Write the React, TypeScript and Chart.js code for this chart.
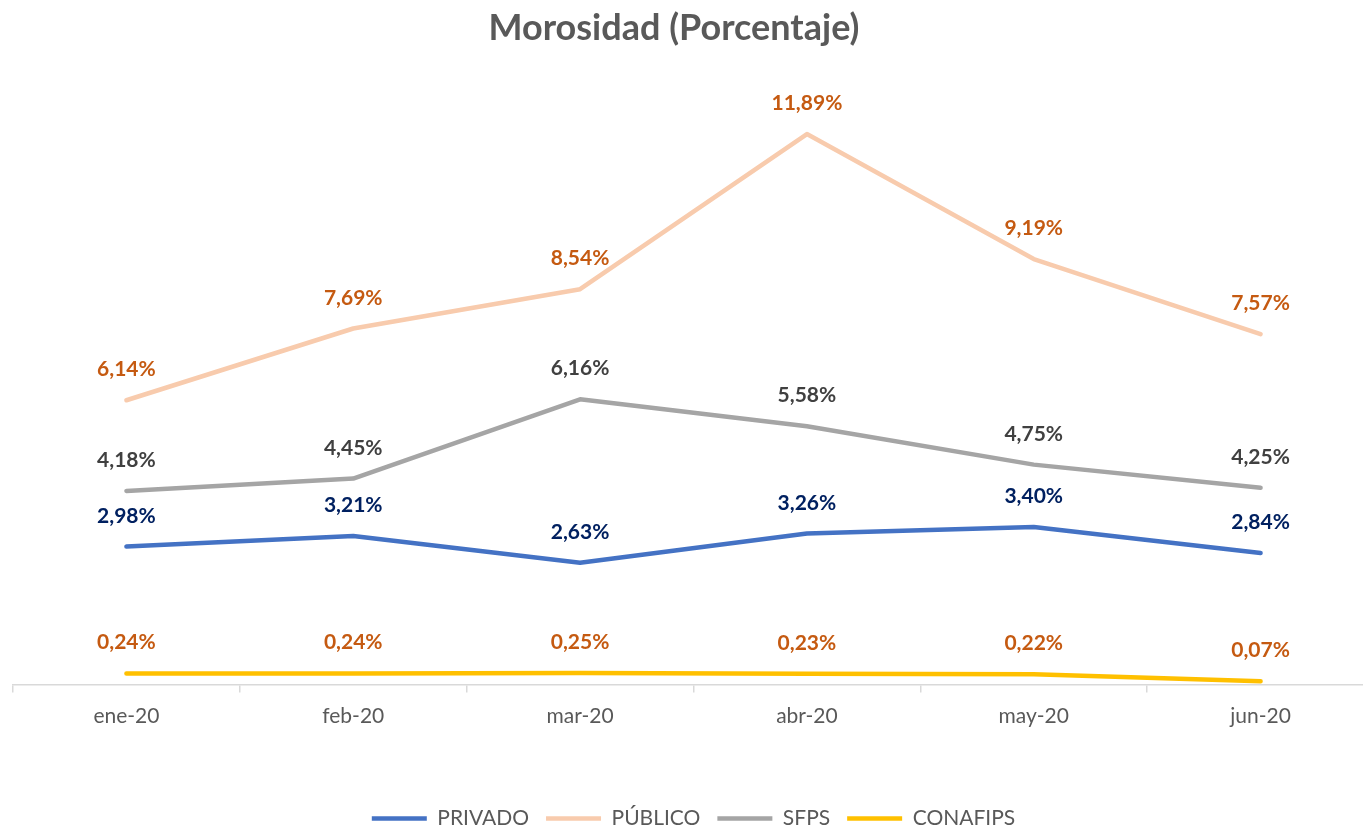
import React, { useEffect, useRef } from "react";
import { Chart, registerables } from "chart.js";

Chart.register(...registerables);

const categories = ["ene-20", "feb-20", "mar-20", "abr-20", "may-20", "jun-20"];
const privado = [2.98, 3.21, 2.63, 3.26, 3.4, 2.84];
const publico = [6.14, 7.69, 8.54, 11.89, 9.19, 7.57];
const sfps = [4.18, 4.45, 6.16, 5.58, 4.75, 4.25];
const conafips = [0.24, 0.24, 0.25, 0.23, 0.22, 0.07];
const seriesNames = ["PRIVADO", "PÚBLICO", "SFPS", "CONAFIPS"];
const seriesValues = [privado, publico, sfps, conafips];
const lineColors = ["#4472C4", "#F8CBAD", "#A5A5A5", "#FFC000"];
const labelColors = ["#002060", "#C55A11", "#404040", "#C55A11"];
const chartTitle = "Morosidad (Porcentaje)";

const FONT = "Lato, 'Open Sans', sans-serif";
const CANVAS_W = 1375;
const CANVAS_H = 839;

const fmt = (v: number) => v.toFixed(2).replace(".", ",") + "%";

const titlePlugin = {
  id: "customTitle",
  afterDraw(chart: any) {
    const ctx = chart.ctx;
    ctx.save();
    ctx.font = `bold 36px ${FONT}`;
    ctx.fillStyle = "#595959";
    ctx.textAlign = "center";
    ctx.textBaseline = "alphabetic";
    ctx.fillText(chartTitle, 674, 40);
    ctx.restore();
  },
};

const labelPlugin = {
  id: "valueLabels",
  afterDatasetsDraw(chart: any) {
    const ctx = chart.ctx;
    ctx.save();
    ctx.font = `bold 21px ${FONT}`;
    ctx.textAlign = "center";
    ctx.textBaseline = "alphabetic";
    chart.data.datasets.forEach((ds: any, i: number) => {
      const meta = chart.getDatasetMeta(i);
      ctx.fillStyle = labelColors[i];
      meta.data.forEach((pt: any, j: number) => {
        ctx.fillText(fmt(ds.data[j]), pt.x, pt.y - 24);
      });
    });
    ctx.restore();
  },
};

export default function App() {
  const ref = useRef<HTMLCanvasElement | null>(null);

  useEffect(() => {
    document.body.style.margin = "0";
    const canvas = ref.current;
    if (!canvas) return;
    const chart = new Chart(canvas, {
      type: "line",
      data: {
        labels: categories,
        datasets: seriesNames.map((name, i) => ({
          label: name,
          data: seriesValues[i],
          borderColor: lineColors[i],
          backgroundColor: lineColors[i],
          borderWidth: 4.5,
          borderCapStyle: "round",
          borderJoinStyle: "round",
          pointRadius: 0,
          pointHoverRadius: 0,
          tension: 0,
          fill: false,
        })),
      },
      options: {
        responsive: false,
        animation: false,
        devicePixelRatio: 1,
        layout: { padding: { left: 13, right: 1, top: 129, bottom: 0 } },
        plugins: {
          title: { display: false },
          tooltip: { enabled: false },
          legend: {
            display: true,
            position: "bottom",
            labels: {
              usePointStyle: true,
              pointStyle: "line",
              pointStyleWidth: 55,
              padding: 17,
              color: "#595959",
              font: { family: FONT, size: 21 },
            },
          },
        },
        scales: {
          x: {
            type: "category",
            offset: true,
            grid: {
              display: true,
              drawOnChartArea: false,
              drawTicks: true,
              tickLength: 8,
              offset: true,
              color: "#D9D9D9",
              lineWidth: 1.5,
            },
            border: { display: true, color: "#D9D9D9", width: 1.5 },
            ticks: {
              color: "#595959",
              padding: 11,
              font: { family: FONT, size: 21 },
              maxRotation: 0,
            },
            afterFit: (scale: any) => {
              scale.height = 106.5;
            },
          },
          y: {
            display: false,
            min: 0,
            max: 12,
          },
        },
      },
      plugins: [titlePlugin, labelPlugin],
    } as any);
    return () => chart.destroy();
  }, []);

  return (
    <div style={{ width: 1363, height: 828, overflow: "hidden", position: "relative" }}>
      <canvas
        ref={ref}
        width={CANVAS_W}
        height={CANVAS_H}
        style={{ display: "block", width: CANVAS_W, height: CANVAS_H }}
      />
    </div>
  );
}
